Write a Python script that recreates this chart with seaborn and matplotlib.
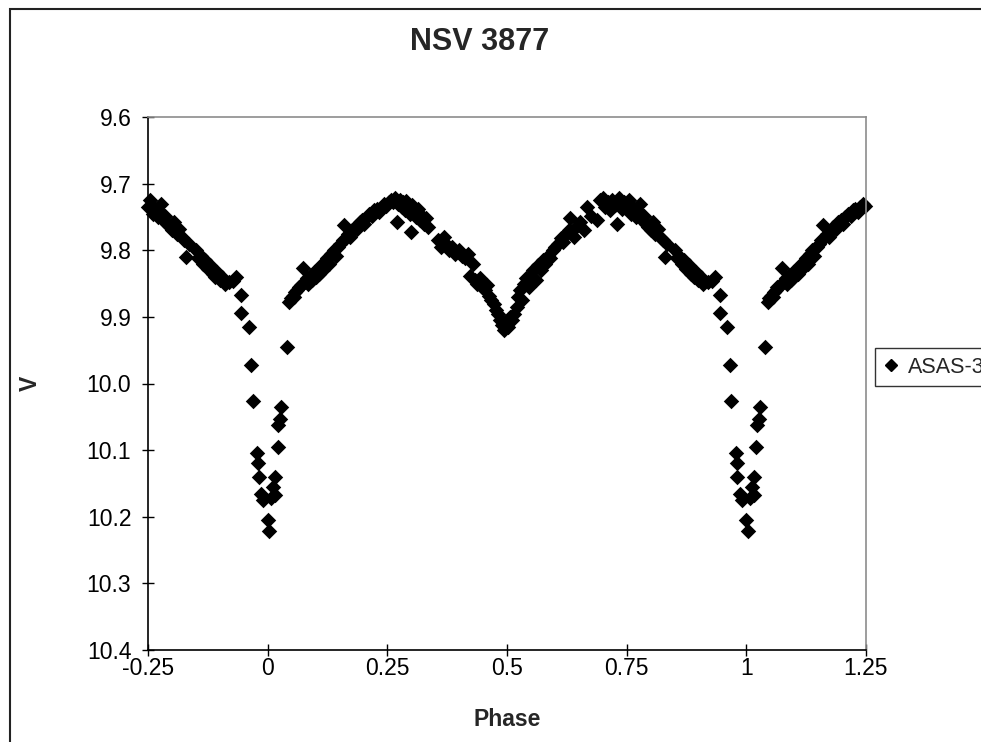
import numpy as np
import pandas as pd
import matplotlib
matplotlib.use("Agg")
import matplotlib.pyplot as plt
from matplotlib.lines import Line2D
from matplotlib.patches import Rectangle
import seaborn as sns

# ---- data: one cycle of phased ASAS-3 photometry ----
phase = [
    0.000, 0.003, 0.008, 0.012, 0.015, 0.015, 0.021, 0.022, 0.026, 0.028, 0.040,
    0.045, 0.048, 0.052, 0.055, 0.058, 0.062, 0.065, 0.070, 0.074, 0.078, 0.082,
    0.085, 0.090, 0.093, 0.097, 0.100, 0.105, 0.108, 0.112, 0.115, 0.120, 0.125,
    0.128, 0.133, 0.138, 0.142, 0.147, 0.152, 0.157, 0.160, 0.163, 0.168, 0.172,
    0.177, 0.182, 0.187, 0.192, 0.197, 0.202, 0.207, 0.212, 0.218, 0.223, 0.228,
    0.233, 0.238, 0.243, 0.248, 0.253, 0.258,
    0.262, 0.267, 0.270, 0.272, 0.276, 0.280, 0.283, 0.287, 0.290, 0.294, 0.297,
    0.300, 0.302, 0.306, 0.310, 0.314, 0.318, 0.322, 0.326, 0.330, 0.335,
    0.356, 0.362, 0.368, 0.372, 0.378, 0.385, 0.392, 0.400, 0.406, 0.412, 0.418,
    0.423, 0.428, 0.433, 0.438, 0.443, 0.448, 0.453, 0.458, 0.462, 0.467, 0.472,
    0.477, 0.482, 0.486, 0.490, 0.494, 0.498, 0.502, 0.506,
    0.510, 0.515, 0.520, 0.524, 0.528, 0.532, 0.536, 0.540, 0.545, 0.550, 0.555,
    0.560, 0.565, 0.570, 0.575, 0.580, 0.585, 0.590, 0.596, 0.600, 0.606, 0.612,
    0.618, 0.624, 0.630, 0.632, 0.640, 0.645, 0.652, 0.660, 0.667, 0.675, 0.688,
    0.694, 0.700, 0.705, 0.710, 0.715, 0.720, 0.725, 0.730, 0.735, 0.740, 0.745,
    0.750, 0.755, 0.760, 0.765, 0.770, 0.775, 0.778, 0.782, 0.786, 0.790, 0.795,
    0.800, 0.805, 0.810, 0.815, 0.820, 0.825, 0.830, 0.835, 0.850, 0.855, 0.860,
    0.865, 0.870, 0.875, 0.880, 0.885, 0.890, 0.895, 0.900, 0.905, 0.910, 0.920,
    0.928, 0.934, 0.945, 0.945, 0.960, 0.965, 0.969, 0.978, 0.980, 0.981, 0.986,
    0.991,
]
vmag = [
    10.205, 10.222, 10.172, 10.155, 10.141, 10.167, 10.095, 10.063, 10.053, 10.035, 9.945,
    9.878, 9.872, 9.868, 9.870, 9.862, 9.860, 9.855, 9.852, 9.827, 9.848, 9.842,
    9.850, 9.838, 9.845, 9.832, 9.840, 9.828, 9.835, 9.822, 9.830, 9.817, 9.812,
    9.820, 9.805, 9.800, 9.808, 9.795, 9.790, 9.785, 9.762, 9.782, 9.775, 9.780,
    9.770, 9.765, 9.768, 9.758, 9.755, 9.760, 9.750, 9.745, 9.748, 9.740, 9.738,
    9.742, 9.735, 9.730, 9.733, 9.727, 9.725,
    9.728, 9.722, 9.757, 9.730, 9.724, 9.735, 9.728, 9.740, 9.726, 9.738, 9.745,
    9.773, 9.732, 9.742, 9.750, 9.738, 9.755, 9.748, 9.760, 9.752, 9.765,
    9.785, 9.795, 9.780, 9.790, 9.800, 9.795, 9.805, 9.800, 9.808, 9.812, 9.805,
    9.838, 9.820, 9.845, 9.850, 9.842, 9.855, 9.860, 9.852, 9.868, 9.875, 9.880,
    9.890, 9.895, 9.905, 9.912, 9.920, 9.908, 9.915, 9.900,
    9.905, 9.895, 9.885, 9.870, 9.860, 9.875, 9.850, 9.842, 9.855, 9.838, 9.830,
    9.845, 9.822, 9.830, 9.815, 9.820, 9.808, 9.812, 9.800, 9.795, 9.790, 9.782,
    9.788, 9.775, 9.770, 9.752, 9.780, 9.765, 9.758, 9.770, 9.735, 9.748, 9.755,
    9.725, 9.722, 9.735, 9.728, 9.740, 9.725, 9.732, 9.760, 9.722, 9.738, 9.728,
    9.735, 9.725, 9.745, 9.738, 9.750, 9.742, 9.730, 9.755, 9.748, 9.760, 9.765,
    9.770, 9.758, 9.775, 9.768, 9.780, 9.785, 9.810, 9.790, 9.800, 9.812, 9.808,
    9.820, 9.815, 9.828, 9.822, 9.835, 9.840, 9.832, 9.845, 9.840, 9.850, 9.848,
    9.846, 9.840, 9.867, 9.894, 9.915, 9.972, 10.026, 10.104, 10.119, 10.140, 10.166,
    10.175,
]

x_ticks = [-0.25, 0, 0.25, 0.5, 0.75, 1, 1.25]
x_tick_labels = ["-0.25", "0", "0.25", "0.5", "0.75", "1", "1.25"]
y_ticks = [9.6, 9.7, 9.8, 9.9, 10.0, 10.1, 10.2, 10.3, 10.4]
y_tick_labels = ["9.6", "9.7", "9.8", "9.9", "10.0", "10.1", "10.2", "10.3", "10.4"]
title = "NSV 3877"
series_name = "ASAS-3"

# phase-fold display range -0.25 .. 1.25 (the cycle is shown repeated)
base = pd.DataFrame({"Phase": phase, "V": vmag})
df = pd.concat([
    base,
    base[base["Phase"] < 0.25].assign(Phase=lambda d: d["Phase"] + 1),
    base[base["Phase"] >= 0.75].assign(Phase=lambda d: d["Phase"] - 1),
], ignore_index=True)

sns.set_style("white")
plt.rcParams["font.family"] = ["Liberation Sans", "DejaVu Sans"]

W, H = 981, 742
fig = plt.figure(figsize=(W / 100, H / 100), dpi=100)
ax = fig.add_axes([148 / W, 1 - 650 / H, (866 - 148) / W, (650 - 117) / H])

sns.scatterplot(data=df, x="Phase", y="V", ax=ax, marker="D", color="black",
                s=62, linewidth=0, clip_on=False, legend=False)

ax.set_xlim(-0.25, 1.25)
ax.set_ylim(10.4, 9.6)
ax.set_xticks(x_ticks)
ax.set_xticklabels(x_tick_labels)
ax.set_yticks(y_ticks)
ax.set_yticklabels(y_tick_labels)
ax.tick_params(axis="both", direction="inout", length=8, width=1,
               colors="black", labelsize=16.5, bottom=True, left=True)
ax.tick_params(axis="y", pad=8)
ax.tick_params(axis="x", pad=1)

for side in ["left", "bottom"]:
    ax.spines[side].set_color("black")
    ax.spines[side].set_linewidth(1.2)
for side in ["top", "right"]:
    ax.spines[side].set_visible(True)
    ax.spines[side].set_color("#8c8c8c")
    ax.spines[side].set_linewidth(1.2)

ax.set_xlabel("Phase", fontsize=16.5, fontweight="bold")
ax.set_ylabel("V", fontsize=16.5, fontweight="bold", va="center")
ax.xaxis.set_label_coords(0.5, (650 - 720) / 533)
ax.xaxis.label.set_va("center")
ax.yaxis.set_label_coords((30 - 148) / 718, (650 - 383) / 533)

fig.text(480 / W, 1 - 42 / H, title, ha="center", va="center",
         fontsize=22, fontweight="bold")

# outer chart border
fig.patches.append(Rectangle((10 / W, -0.1), 2, 1 - 9 / H + 0.1,
                             transform=fig.transFigure, fill=False,
                             edgecolor="#222222", linewidth=1.5))

handle = Line2D([], [], marker="D", color="black", linestyle="none", markersize=6.5)
leg = fig.legend([handle], [series_name], loc="upper left",
                 bbox_to_anchor=(875 / W, 1 - 348 / H), fontsize=15.5,
                 frameon=True, fancybox=False, borderpad=0.4,
                 handlelength=0.7, handletextpad=0.45, borderaxespad=0)
leg.get_frame().set_edgecolor("black")
leg.get_frame().set_linewidth(1.0)

fig.savefig("out.png", dpi=100)
